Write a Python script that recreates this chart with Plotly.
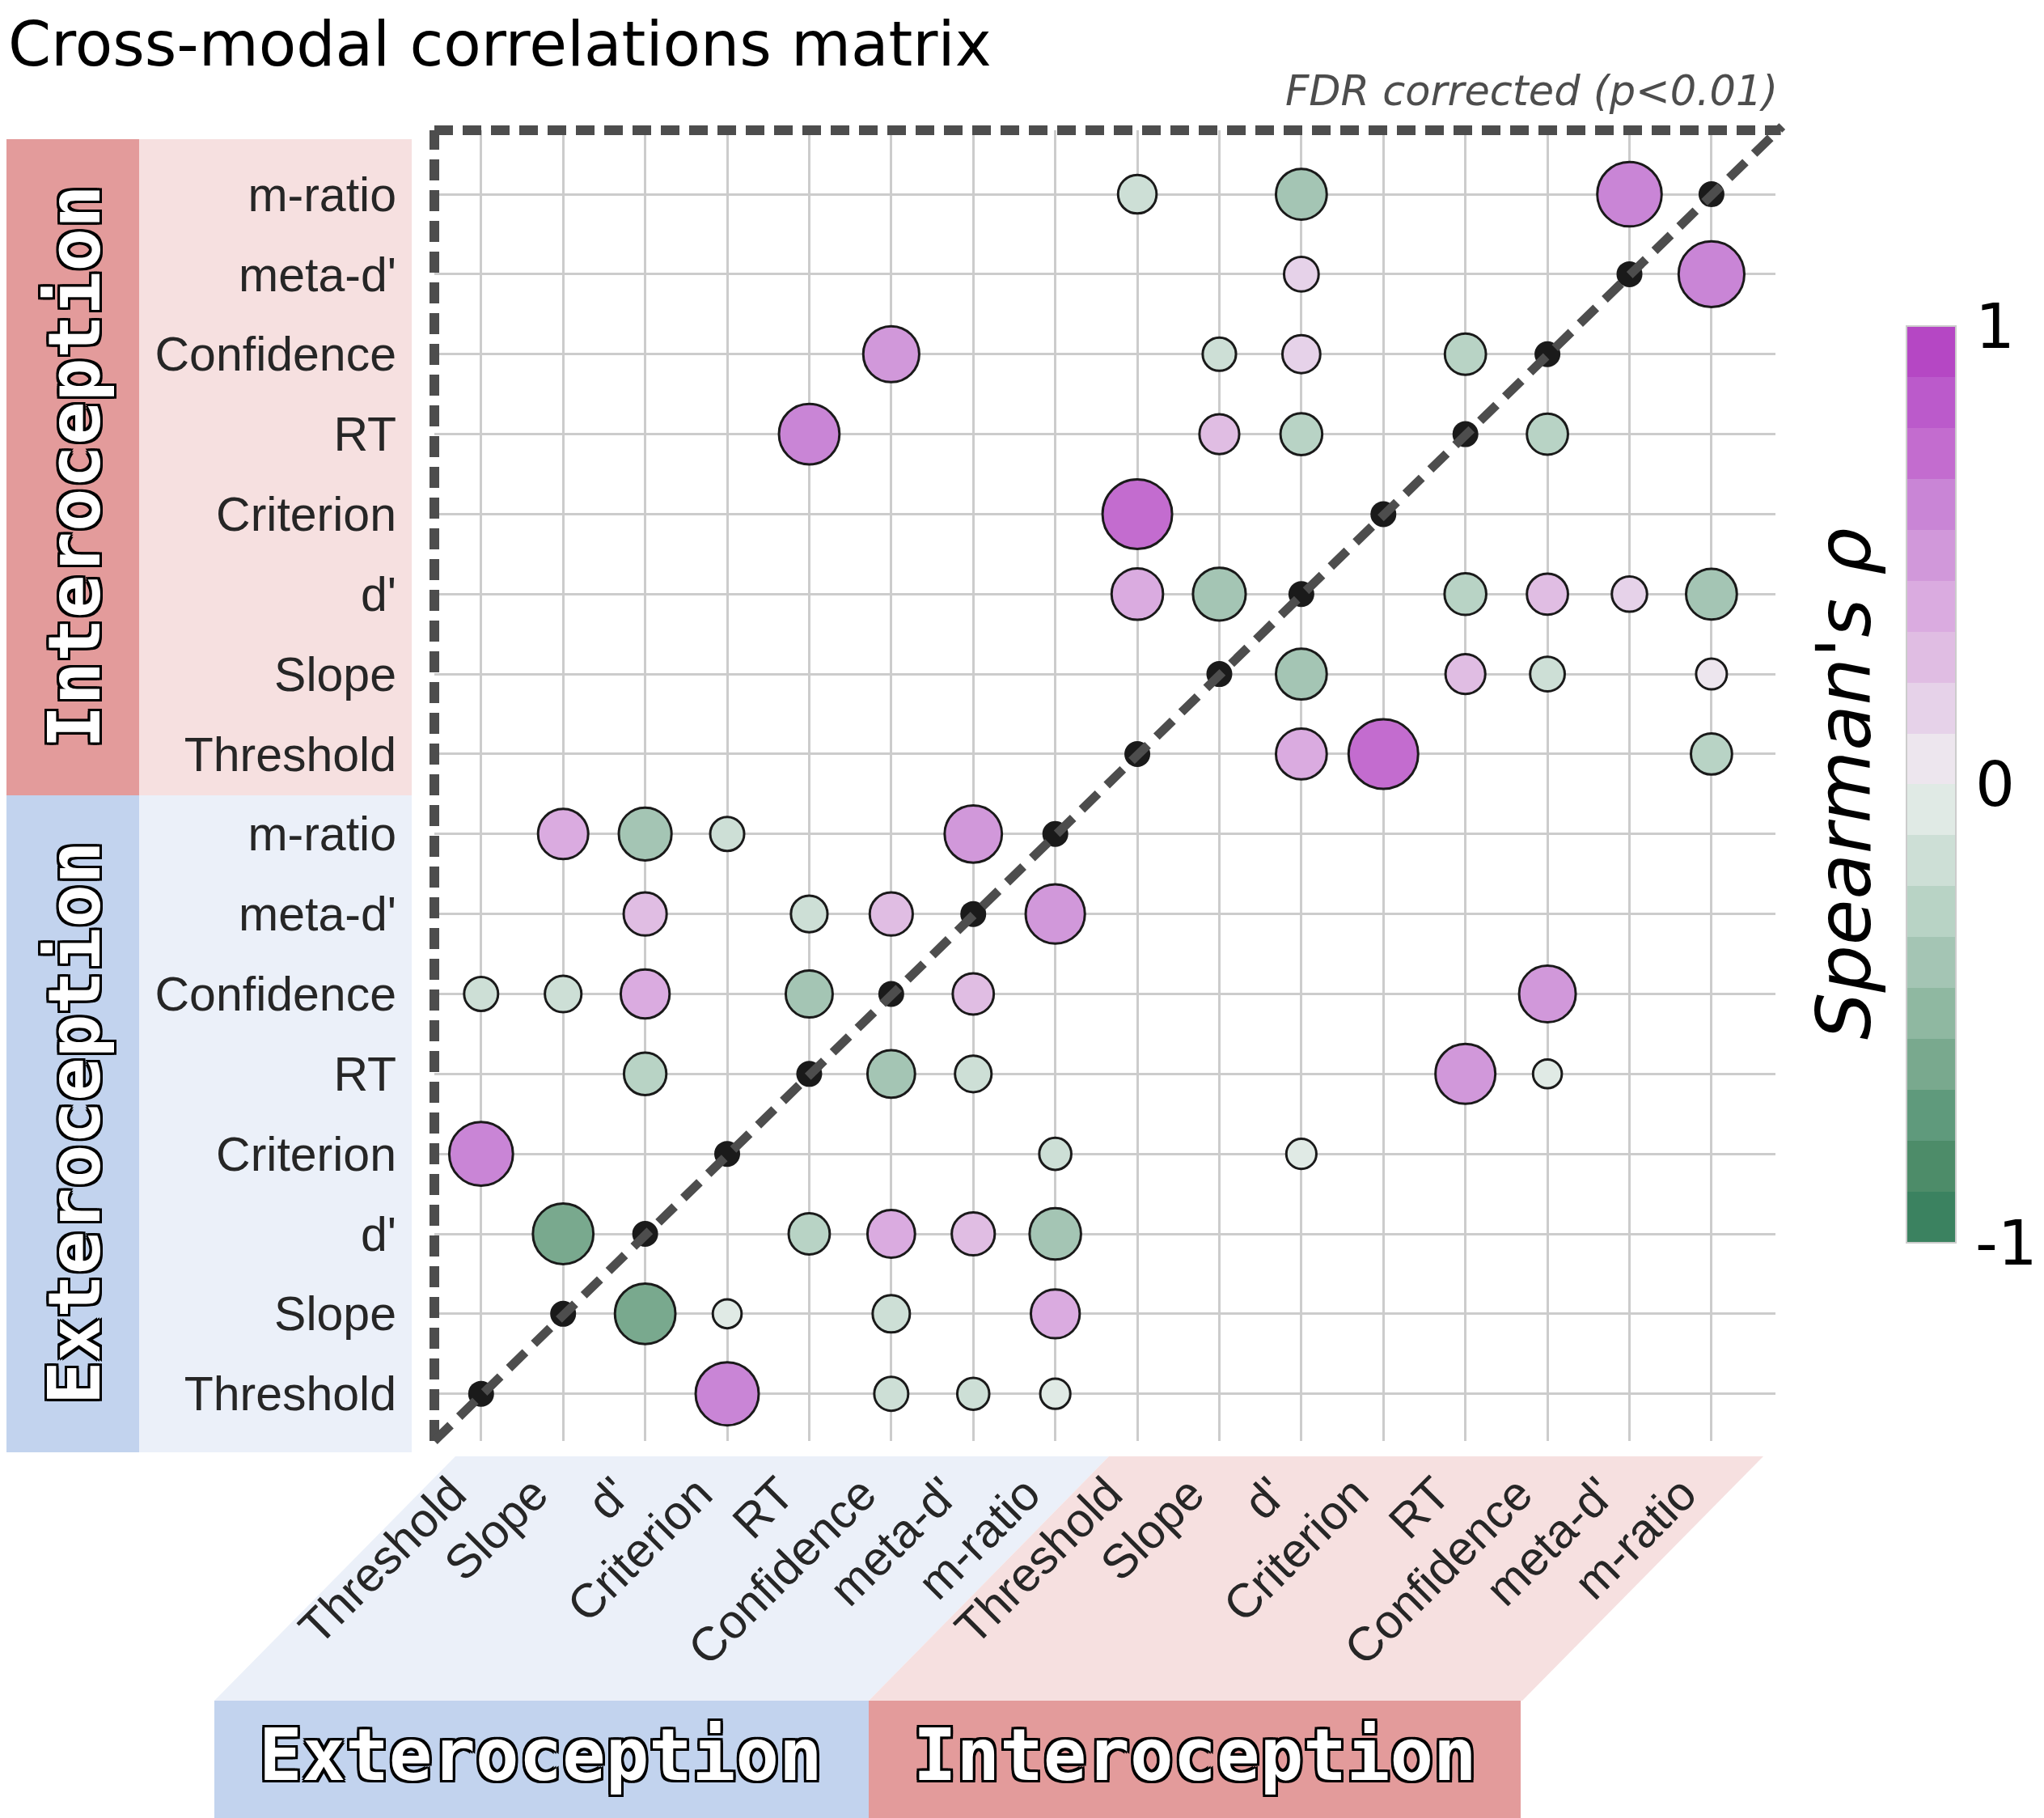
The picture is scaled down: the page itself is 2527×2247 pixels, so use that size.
import plotly.graph_objects as go

# variable names, bottom -> top on y, left -> right on x
labels = ["Threshold", "Slope", "d'", "Criterion", "RT", "Confidence", "meta-d'", "m-ratio",
          "Threshold", "Slope", "d'", "Criterion", "RT", "Confidence", "meta-d'", "m-ratio"]

# significant correlations (FDR corrected)
# row index, column index, Spearman's rho
row_idx = [15, 15, 15,
           14, 14,
           13, 13, 13, 13,
           12, 12, 12, 12,
           11,
           10, 10, 10, 10, 10, 10,
           9, 9, 9, 9,
           8, 8, 8,
           7, 7, 7, 7,
           6, 6, 6, 6,
           5, 5, 5, 5, 5, 5,
           4, 4, 4, 4, 4,
           3, 3, 3,
           2, 2, 2, 2, 2,
           1, 1, 1, 1,
           0, 0, 0, 0]
col_idx = [8, 10, 14,
           10, 15,
           5, 9, 10, 12,
           4, 9, 10, 13,
           8,
           8, 9, 12, 13, 14, 15,
           10, 12, 13, 15,
           10, 11, 15,
           1, 2, 3, 6,
           2, 4, 5, 7,
           0, 1, 2, 4, 6, 13,
           2, 5, 6, 12, 13,
           0, 7, 10,
           1, 4, 5, 6, 7,
           2, 3, 5, 7,
           3, 5, 6, 7]
rho = [-0.22, -0.41, 0.62,
       0.16, 0.64,
       0.49, -0.14, 0.21, -0.26,
       0.56, 0.24, -0.27, -0.26,
       0.70,
       0.42, -0.44, -0.27, 0.26, 0.17, -0.41,
       -0.41, 0.24, -0.16, 0.10,
       0.41, 0.70, -0.26,
       0.40, -0.44, -0.15, 0.51,
       0.29, -0.19, 0.29, 0.54,
       -0.15, -0.19, 0.38, -0.35, 0.26, 0.50,
       -0.28, -0.36, -0.19, 0.55, -0.07,
       0.61, -0.12, -0.09,
       -0.56, -0.26, 0.36, 0.29, -0.42,
       -0.56, -0.07, -0.20, 0.38,
       0.60, -0.15, -0.12, -0.09]

# colour bar
cbar_vals = [-1, 0, 1]
cbar_text = ["-1", "0", "1"]
# 18-step green -> purple palette of the colour bar
palette = ["#3b8260", "#4d8c69", "#5f9a7c", "#79a98e", "#8fb8a1", "#a4c5b4",
           "#b8d3c5", "#cddfd6", "#e0eae5", "#ede6ee", "#e6d2e9", "#e0bde3",
           "#daabe0", "#d198da", "#c985d6", "#c36ccf", "#bb5acb", "#b547c4"]

colorscale = []
n = len(palette)
for i, c in enumerate(palette):
    colorscale.append([i / n, c])
    colorscale.append([(i + 1) / n, c])

# page coordinates of the target picture; the html body adds an 8px margin
OFF = 8
W, H = 2527, 2247
L, R, T, B = 537, 2195, 161, 1781


def px(x):
    return (x - L) / (R - L)


def py(y):
    return (B - y) / (B - T)


sizes = [30 + 80 * abs(r) for r in rho]

corr = go.Scatter(
    x=col_idx, y=row_idx, mode="markers",
    marker=dict(size=sizes, color=rho, colorscale=colorscale, cmin=-1, cmax=1,
                line=dict(color="#1a1a1a", width=3), opacity=1,
                colorbar=dict(x=px(2357), xanchor="left", xpad=0,
                              y=0.501, yanchor="middle", ypad=0,
                              thickness=61, len=1133, lenmode="pixels",
                              outlinewidth=2, outlinecolor="#cccccc",
                              tickvals=cbar_vals, ticktext=cbar_text,
                              ticks="outside", ticklen=8,
                              tickcolor="rgba(0,0,0,0)",
                              tickfont=dict(family="DejaVu Sans", size=77, color="black"))),
    showlegend=False, hoverinfo="skip")

diag = go.Scatter(
    x=list(range(16)), y=list(range(16)), mode="markers",
    marker=dict(size=32, color="#1a1a1a"), showlegend=False, hoverinfo="skip")

fig = go.Figure([diag, corr])

shapes = []
# left group bands
shapes.append(dict(type="rect", xref="paper", yref="paper", x0=px(-20), x1=px(172),
                   y0=py(983), y1=py(172), fillcolor="#e39b9b", line_width=0, layer="below"))
shapes.append(dict(type="rect", xref="paper", yref="paper", x0=px(172), x1=px(509),
                   y0=py(983), y1=py(172), fillcolor="#f6e0e0", line_width=0, layer="below"))
shapes.append(dict(type="rect", xref="paper", yref="paper", x0=px(-20), x1=px(172),
                   y0=py(1795), y1=py(983), fillcolor="#c2d3ee", line_width=0, layer="below"))
shapes.append(dict(type="rect", xref="paper", yref="paper", x0=px(172), x1=px(509),
                   y0=py(1795), y1=py(983), fillcolor="#ebf0f9", line_width=0, layer="below"))


def para(x_top0, x_top1, x_bot0, x_bot1, color):
    path = "M {},{} L {},{} L {},{} L {},{} Z".format(
        px(x_top0), py(1800), px(x_top1), py(1800),
        px(x_bot1), py(2102), px(x_bot0), py(2102))
    return dict(type="path", xref="paper", yref="paper", path=path,
                fillcolor=color, line_width=0, layer="below")


shapes.append(para(563, 1371, 265, 1074, "#ebf0f9"))
shapes.append(para(1371, 2180, 1074, 1882, "#f6e0e0"))
shapes.append(dict(type="rect", xref="paper", yref="paper", x0=px(265), x1=px(1074),
                   y0=py(H + 20), y1=py(2102), fillcolor="#c2d3ee", line_width=0, layer="below"))
shapes.append(dict(type="rect", xref="paper", yref="paper", x0=px(1074), x1=px(1880),
                   y0=py(H + 20), y1=py(2102), fillcolor="#e39b9b", line_width=0, layer="below"))

# dashed frame and diagonal
shapes.append(dict(type="line", xref="paper", yref="paper", x0=0, x1=0, y0=0, y1=1,
                   line=dict(color="#4d4d4d", width=12, dash="26px,12px"), layer="above"))
shapes.append(dict(type="line", xref="paper", yref="paper", x0=0, x1=1.004, y0=1, y1=1,
                   line=dict(color="#4d4d4d", width=12, dash="23px,12px"), layer="above"))
shapes.append(dict(type="line", xref="paper", yref="paper", x0=0, x1=1.005, y0=0, y1=1.003,
                   line=dict(color="#4d4d4d", width=11, dash="28px,15px"), layer="above"))

outline = ("-3px -3px 0 #000, 3px -3px 0 #000, -3px 3px 0 #000, 3px 3px 0 #000, "
           "0 3px 0 #000, 0 -3px 0 #000, 3px 0 0 #000, -3px 0 0 #000")
group_font = dict(family="DejaVu Sans Mono", size=89, color="white", weight="bold",
                  shadow=outline)


def group_label(text, x, y, angle=0):
    return dict(text=text, xref="paper", yref="paper", x=px(x), y=py(y),
                xanchor="center", yanchor="middle", textangle=angle,
                showarrow=False, font=group_font)


annotations = [
    dict(text="Cross-modal correlations matrix", xref="paper", yref="paper",
         x=px(OFF), y=py(OFF), xanchor="left", yanchor="top", showarrow=False,
         font=dict(family="DejaVu Sans", size=76, color="black")),
    dict(text="FDR corrected (p<0.01)", xref="paper", yref="paper",
         x=px(2200), y=py(113), xanchor="right", yanchor="middle", showarrow=False,
         font=dict(family="DejaVu Sans", size=51, color="#4d4d4d", style="italic")),
    dict(text="Spearman's ρ", xref="paper", yref="paper",
         x=px(2280), y=py(969), xanchor="center", yanchor="middle", textangle=-90,
         showarrow=False,
         font=dict(family="DejaVu Sans", size=92, color="black", style="italic")),
    group_label("Interoception", 92, 577, -90),
    group_label("Exteroception", 92, 1388, -90),
    group_label("Exteroception", 668, 2169),
    group_label("Interoception", 1477, 2169),
]

tick_font = dict(family="Liberation Sans", size=59, color="#262626")

fig.update_layout(
    width=W - OFF, height=H - OFF,
    margin=dict(l=L - OFF, r=W - R, t=T - OFF, b=H - B, pad=0, autoexpand=False),
    plot_bgcolor="white", paper_bgcolor="white",
    shapes=shapes, annotations=annotations,
    xaxis=dict(range=[-0.57, 15.78], tickvals=list(range(16)), ticktext=labels,
               tickangle=-45, tickfont=tick_font, showgrid=True, gridcolor="#cccccc",
               gridwidth=3, zeroline=False, showline=False, ticks="",
               ticklabelstandoff=18, ticklabelshift=-36),
    yaxis=dict(range=[-0.59, 15.8], tickvals=list(range(16)), ticktext=labels,
               tickfont=tick_font, showgrid=True, gridcolor="#cccccc",
               gridwidth=3, zeroline=False, showline=False, ticks="",
               ticklabelstandoff=46),
)

fig.write_html("out.html")
